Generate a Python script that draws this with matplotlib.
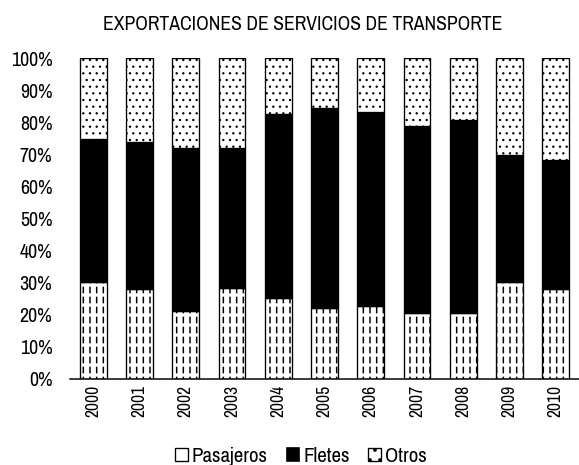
import numpy as np
import matplotlib
matplotlib.use("Agg")
import matplotlib.pyplot as plt
from matplotlib.patches import Patch

plt.rcParams['font.family'] = ['Archivo Narrow', 'Liberation Sans', 'DejaVu Sans']

# Data (shares of total)
years = ['2000', '2001', '2002', '2003', '2004', '2005',
         '2006', '2007', '2008', '2009', '2010']
pasajeros = [30.1, 27.9, 21.3, 28.2, 25.2, 22.1, 22.8, 20.6, 20.6, 30.3, 28.0]
fletes_top = [74.7, 73.8, 71.9, 71.9, 82.5, 84.3, 83.1, 78.8, 80.6, 69.9, 68.2]
fletes = [f - p for f, p in zip(fletes_top, pasajeros)]
otros = [100 - f for f in fletes_top]

title = 'EXPORTACIONES DE SERVICIOS DE TRANSPORTE'
labels = ['Pasajeros', 'Fletes', 'Otros']

x = np.arange(len(years))
pas = np.array(pasajeros) / 100
fle = np.array(fletes) / 100
otr = np.array(otros) / 100
w = 0.58

dpi = 120
fig = plt.figure(figsize=(579 / dpi, 465 / dpi), dpi=dpi)
ax = fig.add_axes([70 / 579, 86 / 465, 509 / 579, 321 / 465])


def hbar(bottom, height, hatch, color, lw):
    # bar drawn only for its hatch, with its own hatch line width
    bars = ax.bar(x, height, w, bottom=bottom,
                  facecolor='none' if color == 'white' else 'white',
                  edgecolor=color, linewidth=0, hatch=hatch)
    for b in bars:
        b.set_hatch_linewidth(lw)
    return bars


# Pasajeros: dashed vertical lines (vertical hatch cut by white stripes)
hbar(0, pas, '|||', 'black', 0.9)
hbar(0, pas, '--', 'white', 2.0)
ax.bar(x, pas, w, facecolor='none', edgecolor='black', linewidth=0.8)

# Fletes: solid black
ax.bar(x, fle, w, bottom=pas, color='black', edgecolor='black', linewidth=0.8)

# Otros: dotted
hbar(pas + fle, otr, '...', 'black', 0.6)
ax.bar(x, otr, w, bottom=pas + fle, facecolor='none', edgecolor='black', linewidth=0.8)

ax.set_xlim(-0.5, 10.5)
ax.set_ylim(0, 1)
yt = np.arange(0, 1.01, 0.1)
ax.set_yticks(yt)
ax.set_yticklabels([f'{int(round(v * 100))}%' for v in yt], fontsize=12)
ax.set_xticks(x)
ax.set_xticklabels(years, rotation=90, fontsize=10.5)
ax.tick_params(axis='y', length=0, pad=10.5)
ax.tick_params(axis='x', length=0, pad=3.5)
for s in ['left', 'right', 'top']:
    ax.spines[s].set_visible(False)
ax.spines['bottom'].set_linewidth(0.9)

fig.text(303 / 579, 1 - 25 / 465, title, ha='center', va='center', fontsize=11.8)

legend_handles = [Patch(facecolor='white', edgecolor='black', linewidth=0.8),
                  Patch(facecolor='black', edgecolor='black'),
                  Patch(facecolor='white', edgecolor='black', hatch='..', linewidth=0.8)]
for h in legend_handles:
    h.set_hatch_linewidth(0.6)
fig.legend(legend_handles, labels, loc='center', bbox_to_anchor=(301 / 579, 1 - 456 / 465),
           ncol=3, frameon=False, fontsize=12.5, handlelength=0.6, handleheight=0.6,
           handletextpad=0.2, columnspacing=0.9, borderpad=0)

fig.savefig('out.png', dpi=dpi)
